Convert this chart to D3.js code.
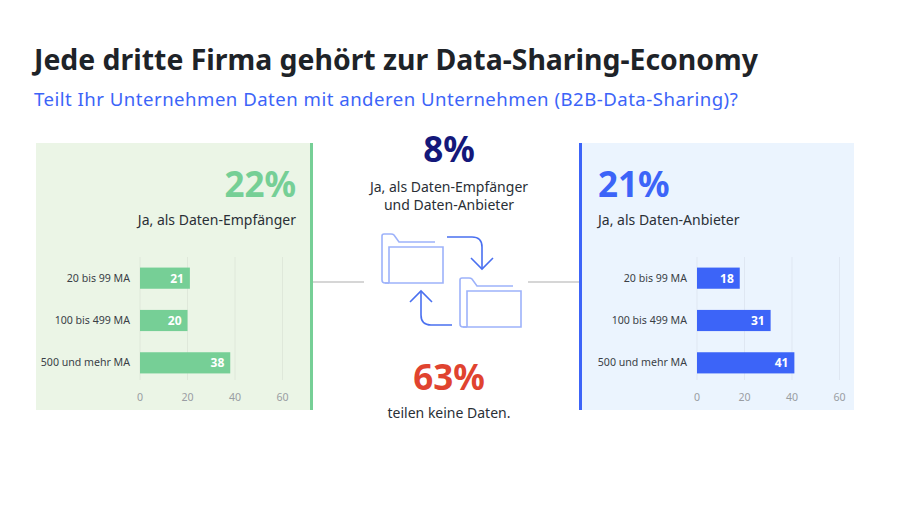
<!DOCTYPE html>
<html><head><meta charset="utf-8">
<script src="https://cdn.jsdelivr.net/npm/d3@7"></script>
<style>html,body{margin:0;padding:0;background:#fff}svg{display:block}text{font-family:"Noto Sans",sans-serif}</style>
</head><body><svg id="c" width="900" height="509"></svg>
<script>
const categories = ["20 bis 99 MA","100 bis 499 MA","500 und mehr MA"];
const receiverValues = [21,20,38];
const providerValues = [18,31,41];
const axisTicks = [0,20,40,60];
const titleText = "Jede dritte Firma gehört zur Data-Sharing-Economy";
const subtitleText = "Teilt Ihr Unternehmen Daten mit anderen Unternehmen (B2B-Data-Sharing)?";
const receiverShare = "22%", providerShare = "21%", bothShare = "8%", noneShare = "63%";

const svg = d3.select("#c");
const ink = "#2a2f36", green = "#76cf96", blue = "#3c64f8";

svg.append("text").attr("x",34).attr("y",70).attr("font-size",28.4).attr("font-weight",700).attr("fill","#1e2328").text(titleText);
svg.append("text").attr("x",34).attr("y",106).attr("font-size",18.6).attr("letter-spacing",0.48).attr("fill",blue).text(subtitleText);

function panel(o){
  svg.append("rect").attr("x",o.x0).attr("y",143).attr("width",o.x1-o.x0).attr("height",267).attr("fill",o.bg);
  svg.append("rect").attr("x",o.rule).attr("y",143).attr("width",3).attr("height",267).attr("fill",o.color);
  const x = d3.scaleLinear().domain([0,60]).range([o.zero,o.zero+142.5]);
  const y = d3.scaleBand().domain(categories).range([257,384]).paddingInner(0.5).paddingOuter(0.25);
  const g = svg.append("g");
  g.selectAll("line.grid").data(axisTicks).join("line").attr("class","grid")
    .attr("x1",d=>x(d)).attr("x2",d=>x(d)).attr("y1",257).attr("y2",380)
    .attr("stroke",o.grid).attr("stroke-width",1);
  g.selectAll("rect.bar").data(o.values).join("rect").attr("class","bar")
    .attr("x",x(0)).attr("y",(d,i)=>y(categories[i])).attr("width",d=>x(d)-x(0)).attr("height",y.bandwidth()).attr("fill",o.color);
  g.selectAll("text.val").data(o.values).join("text").attr("class","val")
    .attr("x",d=>x(d)-6).attr("y",(d,i)=>y(categories[i])+y.bandwidth()/2+4.5)
    .attr("text-anchor","end").attr("font-size",12).attr("font-weight",700).attr("fill","#fff").text(d=>d);
  g.selectAll("text.cat").data(categories).join("text").attr("class","cat")
    .attr("x",x(0)-10).attr("y",d=>y(d)+y.bandwidth()/2+3.5)
    .attr("text-anchor","end").attr("font-size",10.6).attr("fill","#3a3f46").text(d=>d);
  g.selectAll("text.tick").data(axisTicks).join("text").attr("class","tick")
    .attr("x",d=>x(d)).attr("y",401).attr("text-anchor","middle").attr("font-size",10.6).attr("fill","#9a9ea3").text(d=>d);
  svg.append("text").attr("x",o.tx).attr("y",197).attr("text-anchor",o.anchor).attr("font-size",35).attr("font-weight",700).attr("fill",o.color).text(o.share);
  svg.append("text").attr("x",o.tx2).attr("y",225).attr("text-anchor",o.anchor).attr("font-size",14).attr("fill",ink).text(o.label);
}
panel({x0:36,x1:310,rule:310,bg:"#ebf5e6",color:green,grid:"#dfe8da",zero:140,values:receiverValues,share:receiverShare,label:"Ja, als Daten-Empfänger",tx:296,tx2:296,anchor:"end"});
panel({x0:581,x1:854,rule:579,bg:"#ebf4fe",color:blue,grid:"#dfe7f2",zero:697,values:providerValues,share:providerShare,label:"Ja, als Daten-Anbieter",tx:598,tx2:598,anchor:"start"});

const cx = 449;
svg.append("text").attr("x",cx).attr("y",162).attr("text-anchor","middle").attr("font-size",35).attr("font-weight",700).attr("fill","#14187a").text(bothShare);
svg.append("text").attr("x",cx).attr("y",192).attr("text-anchor","middle").attr("font-size",14).attr("fill",ink).text("Ja, als Daten-Empfänger");
svg.append("text").attr("x",cx).attr("y",210).attr("text-anchor","middle").attr("font-size",14).attr("fill",ink).text("und Daten-Anbieter");
svg.append("text").attr("x",cx).attr("y",390).attr("text-anchor","middle").attr("font-size",35).attr("font-weight",700).attr("fill","#e0432f").text(noneShare);
svg.append("text").attr("x",cx).attr("y",418).attr("text-anchor","middle").attr("font-size",14).attr("fill",ink).text("teilen keine Daten.");

svg.append("line").attr("x1",313).attr("x2",364).attr("y1",282).attr("y2",282).attr("stroke","#c8c9c9").attr("stroke-width",1.4);
svg.append("line").attr("x1",528).attr("x2",579).attr("y1",282).attr("y2",282).attr("stroke","#c8c9c9").attr("stroke-width",1.4);

function folder(dx,dy){
  const g = svg.append("g").attr("transform",`translate(${dx},${dy})`).attr("fill","none").attr("stroke","#9db2fa").attr("stroke-width",1.6);
  g.append("path").attr("d","M55,12 H19 L14,5 Q13,4 11,4 H4 Q2,4 2,6 V50 Q2,53 5,53 H9");
  g.append("path").attr("d","M9,53 V17 H63 V53 H5");
}
folder(380,230);
folder(458,274);
const arrows = svg.append("g").attr("fill","none").attr("stroke","#4a70f0").attr("stroke-width",1.6);
arrows.append("path").attr("d","M447,237 H472 Q482,237 482,247 V268");
arrows.append("path").attr("d","M471,258 L482,269 L493,258");
arrows.append("path").attr("d","M452,325 H431 Q421,325 421,315 V292");
arrows.append("path").attr("d","M410,302 L421,291 L432,302");
</script></body></html>
